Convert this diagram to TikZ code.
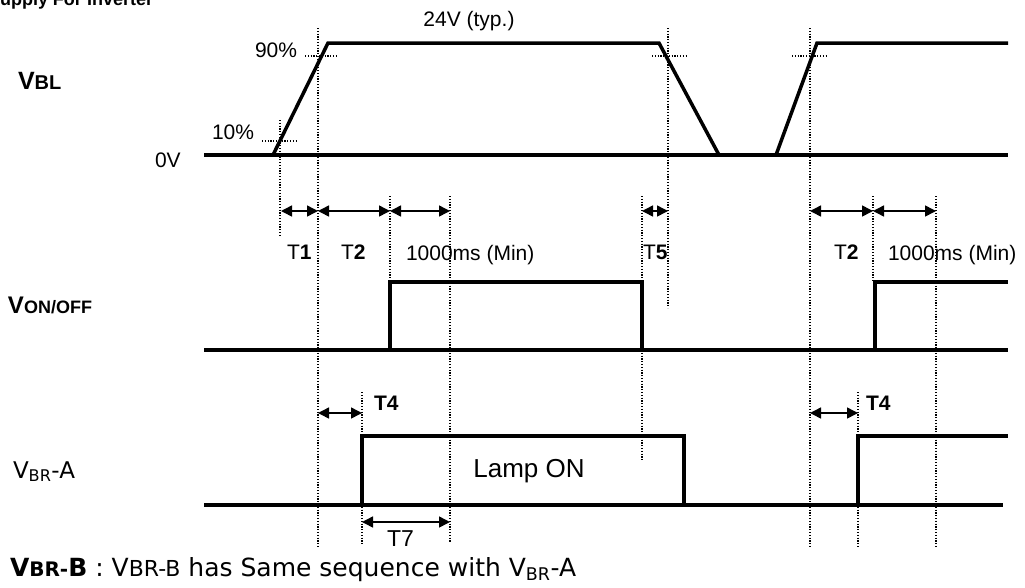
\documentclass[tikz,border=0pt]{standalone}
\usepackage{fontspec}
\setmainfont{Liberation Sans}
\newfontfamily\verdfont{DejaVu Sans}
\usetikzlibrary{arrows.meta}

\begin{document}
\begin{tikzpicture}[
    x=1pt, y=-1pt,
    every node/.style={inner sep=0pt, outer sep=0pt},
    wave/.style={line width=3.5pt},
    guide/.style={line width=1.2pt, dash pattern=on 1.2pt off 1.6pt},
    dimarr/.style={{Triangle[length=11pt,width=11pt]}-{Triangle[length=11pt,width=11pt]}, line width=1.5pt},
    lbl/.style={font=\fontsize{21}{23}\selectfont, anchor=base west},
    sig/.style={font=\bfseries, anchor=base west}
]
\useasboundingbox (0,0) rectangle (1025,587);

% Title, cut by the top edge
\node[anchor=base west, font=\bfseries\fontsize{18}{20}\selectfont] (title) at (-12,5) {Supply For Inverter};

% Signal names
\node[sig] (vbl) at (18,89) {\fontsize{25}{27}\selectfont V\fontsize{20}{22}\selectfont BL};
\node[sig] (von) at (8,313) {\fontsize{24}{26}\selectfont V\fontsize{18}{20}\selectfont ON/OFF};
\node[anchor=base west, font=\verdfont\fontsize{23}{25}\selectfont] (vbra) at (13,478) {V\textsubscript{BR}-A};

% V_BL levels
\node[lbl] (p90) at (255,57) {90\%};
\node[lbl] (p10) at (212,139) {10\%};
\node[lbl] (zero) at (155,167) {0V};
\node[lbl, anchor=base] (typ) at (469,26) {24V (typ.)};

% V_BL waveform
\draw[wave] (204,155) -- (1008,155);
\draw[wave] (273,155) -- (328,43) -- (659,43) -- (719,155);
\draw[wave] (776,155) -- (817,43) -- (1008,43);

% V_ON/OFF waveform
\draw[wave] (204,350) -- (1008,350);
\draw[wave] (390,350) -- (390,282) -- (642,282) -- (642,350);
\draw[wave] (875,350) -- (875,282) -- (1008,282);

% V_BR-A waveform
\draw[wave] (204,505) -- (1003,505);
\draw[wave] (362,505) -- (362,436) -- (684,436) -- (684,505);
\draw[wave] (858,505) -- (858,436) -- (1008,436);
\node[anchor=base, font=\fontsize{26}{28}\selectfont] (lamp) at (529,477) {Lamp ON};

% Dotted guides
\draw[guide] (262,141) -- (298,141);
\draw[guide] (305,56) -- (338,56);
\draw[guide] (652,56) -- (687,56);
\draw[guide] (792,56) -- (827,56);
\draw[guide] (280,120) -- (280,237);
\draw[guide] (318,28) -- (318,547);
\draw[guide] (390,196) -- (390,282);
\draw[guide] (450,196) -- (450,543);
\draw[guide] (362,392) -- (362,545);
\draw[guide] (642,196) -- (642,460);
\draw[guide] (668,28) -- (668,308);
\draw[guide] (810,28) -- (810,547);
\draw[guide] (873,196) -- (873,282);
\draw[guide] (936,196) -- (936,547);
\draw[guide] (858,392) -- (858,547);

% Arrow ends
\coordinate (a1) at (281,211);
\coordinate (a2) at (318,211);
\coordinate (a3) at (390,211);
\coordinate (a4) at (450,211);
\coordinate (a5) at (642,211);
\coordinate (a6) at (668,211);
\coordinate (b1) at (810,211);
\coordinate (b2) at (873,211);
\coordinate (b3) at (936,211);
\coordinate (c1) at (318,413);
\coordinate (c2) at (362,413);
\coordinate (c3) at (362,522);
\coordinate (c4) at (450,522);
\coordinate (d1) at (810,413);
\coordinate (d2) at (858,413);

% Timing arrows
\draw[dimarr] (a1) -- (a2);
\draw[dimarr] (a2) -- (a3);
\draw[dimarr] (a3) -- (a4);
\draw[dimarr] (a5) -- (a6);
\draw[dimarr] (b1) -- (b2);
\draw[dimarr] (b2) -- (b3);
\draw[dimarr] (c1) -- (c2);
\draw[dimarr] (c3) -- (c4);
\draw[dimarr] (d1) -- (d2);

% Timing labels
\node[lbl] (t1) at (287,259) {T\textbf{1}};
\node[lbl] (t2) at (341,259) {T\textbf{2}};
\node[lbl] (ms) at (406,260) {1000ms (Min)};
\node[lbl] (t5) at (643,259) {T\textbf{5}};
\node[lbl] (t2r) at (834,259) {T\textbf{2}};
\node[lbl] (msr) at (888,260) {1000ms (Min)};
\node[lbl] (t4) at (374,410) {\textbf{T4}};
\node[lbl] (t4r) at (866,410) {\textbf{T4}};
\node[lbl, font=\fontsize{23}{25}\selectfont] (t7) at (387,546) {T7};

% Note
\node[anchor=base west, font=\verdfont\fontsize{25}{27}\selectfont] (note) at (10,576) {\textbf{V{\fontsize{20}{22}\selectfont BR-}B} : V{\fontsize{22}{24}\selectfont BR-B} has Same sequence with V\textsubscript{BR}-A};
\end{tikzpicture}
\end{document}
